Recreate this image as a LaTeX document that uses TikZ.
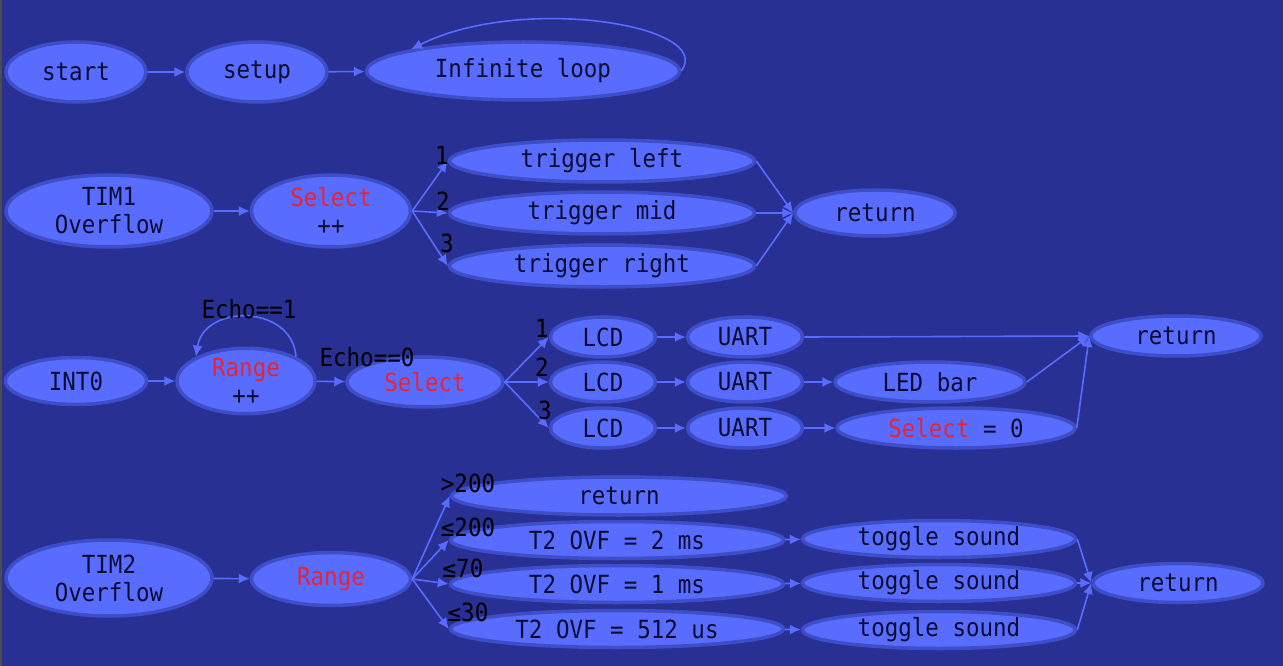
\documentclass[tikz,border=0pt]{standalone}
\usepackage{fontspec}
\setmonofont[FakeStretch=0.9]{DejaVu Sans Mono}
\usetikzlibrary{shapes.geometric,arrows.meta}
\definecolor{bgblue}{RGB}{40,48,148}
\definecolor{nodeblue}{RGB}{88,108,255}
\definecolor{rimblue}{RGB}{62,78,200}
\definecolor{txtblue}{RGB}{12,12,48}
\definecolor{hotred}{RGB}{232,36,52}

\begin{document}
\begin{tikzpicture}[x=1pt, y=-1pt,
		st/.style={ellipse, draw=rimblue, line width=3.5pt, fill=nodeblue, text=txtblue, inner sep=0pt, align=center, font=\ttfamily\fontsize{25}{28}\selectfont},
		lab/.style={inner sep=0pt, text=black, font=\ttfamily\fontsize{25}{28}\selectfont},
		arr/.style={draw=nodeblue, line width=1.6pt, -{Latex[length=11pt,width=10pt]}}]
	\fill[bgblue] (0,0) rectangle (1283,666);
	\fill[gray!60!black] (0,0) rectangle (2,666);
	\useasboundingbox (0,0) rectangle (1283,666);
	% main loop
	\node[st, minimum width=140, minimum height=60](start) at (76,72) {start};
	\node[st, minimum width=140, minimum height=60](setup) at (257,72) {setup};
	\node[st, minimum width=313, minimum height=58](loop) at (523,71) {Infinite loop};
	\draw[arr] (start) -- (setup);
	\draw[arr] (setup) -- (loop);
	\draw[arr] (loop.east) .. controls (716,25) and (520,-6) .. (loop.north west);
	% TIM1 overflow
	\node[st, minimum width=206, minimum height=72](tim1) at (109,211) {TIM1\\Overflow};
	\node[st, minimum width=159, minimum height=72](sel1) at (331,211) {\textcolor{hotred}{Select}\\++};
	\node[st, minimum width=305, minimum height=42](left) at (602,161) {trigger left};
	\node[st, minimum width=305, minimum height=42](mid) at (602,213) {trigger mid};
	\node[st, minimum width=305, minimum height=42](right) at (602,266) {trigger right};
	\node[st, minimum width=160, minimum height=46](ret1) at (875,213) {return};
	\draw[arr] (tim1) -- (sel1);
	\foreach \t in {left,mid,right}
		\draw[arr] (sel1.east) -- (\t.west);
	\foreach \t in {left,mid,right}
		\draw[arr] (\t.east) -- (ret1.west);
	\node[lab] at (442,155) {1};
	\node[lab] at (443,201) {2};
	\node[lab] at (447,243) {3};
	% INT0
	\node[st, minimum width=141, minimum height=47](int0) at (76,381) {INT0};
	\node[st, minimum width=138, minimum height=62](rng1) at (246,381) {\textcolor{hotred}{Range}\\++};
	\node[st, minimum width=156, minimum height=50](sel2) at (425,382) {\textcolor{hotred}{Select}};
	\foreach \r/\y in {1/337,2/382,3/428}{
		\node[st, minimum width=105, minimum height=40](lcd\r) at (603,\y) {LCD};
		\node[st, minimum width=115, minimum height=40](uart\r) at (745,\y) {UART};
		\draw[arr] (sel2.east) -- (lcd\r.west);
		\draw[arr] (lcd\r) -- (uart\r);
	}
	\node[st, minimum width=190, minimum height=40](led) at (930,382) {LED bar};
	\node[st, minimum width=238, minimum height=40](sel0) at (956,428) {\textcolor{hotred}{Select} = 0};
	\node[st, minimum width=170, minimum height=40](ret2) at (1176,336) {return};
	\draw[arr] (int0) -- (rng1);
	\draw[arr] (rng1.north east) .. controls (292,304) and (204,304) .. (rng1.north west);
	\draw[arr] (rng1) -- (sel2);
	\draw[arr] (uart2) -- (led);
	\draw[arr] (uart3) -- (sel0);
	\draw[arr] (uart1.east) -- (ret2.west);
	\draw[arr] (led.east) -- (ret2.west);
	\draw[arr] (sel0.east) -- (ret2.west);
	\node[lab] at (249,309) {Echo==1};
	\node[lab] at (367,357) {Echo==0};
	\node[lab] at (542,328) {1};
	\node[lab] at (542,367) {2};
	\node[lab] at (545,410) {3};
	% TIM2 overflow
	\node[st, minimum width=206, minimum height=76](tim2) at (109,578) {TIM2\\Overflow};
	\node[st, minimum width=159, minimum height=53](rng2) at (331,579) {\textcolor{hotred}{Range}};
	\node[st, minimum width=335, minimum height=38](ret3) at (619,496) {return};
	\node[st, minimum width=333, minimum height=37](ovf1) at (617,540) {T2 OVF = 2 ms};
	\node[st, minimum width=333, minimum height=37](ovf2) at (617,584) {T2 OVF = 1 ms};
	\node[st, minimum width=333, minimum height=37](ovf3) at (617,629) {T2 OVF = 512 us};
	\node[st, minimum width=273, minimum height=37](tog1) at (939,539) {toggle sound};
	\node[st, minimum width=273, minimum height=37](tog2) at (939,583) {toggle sound};
	\node[st, minimum width=273, minimum height=37](tog3) at (939,630) {toggle sound};
	\node[st, minimum width=170, minimum height=39](ret4) at (1178,583) {return};
	\draw[arr] (tim2) -- (rng2);
	\draw[arr] (rng2.east) -- (ret3.west);
	\foreach \i in {1,2,3}{
		\draw[arr] (rng2.east) -- (ovf\i.west);
		\draw[arr] (ovf\i) -- (tog\i);
		\draw[arr] (tog\i.east) -- (ret4.west);
	}
	\node[lab] at (468,483) {>200};
	\node[lab] at (468,527) {≤200};
	\node[lab] at (463,568) {≤70};
	\node[lab] at (468,612) {≤30};
\end{tikzpicture}
\end{document}
